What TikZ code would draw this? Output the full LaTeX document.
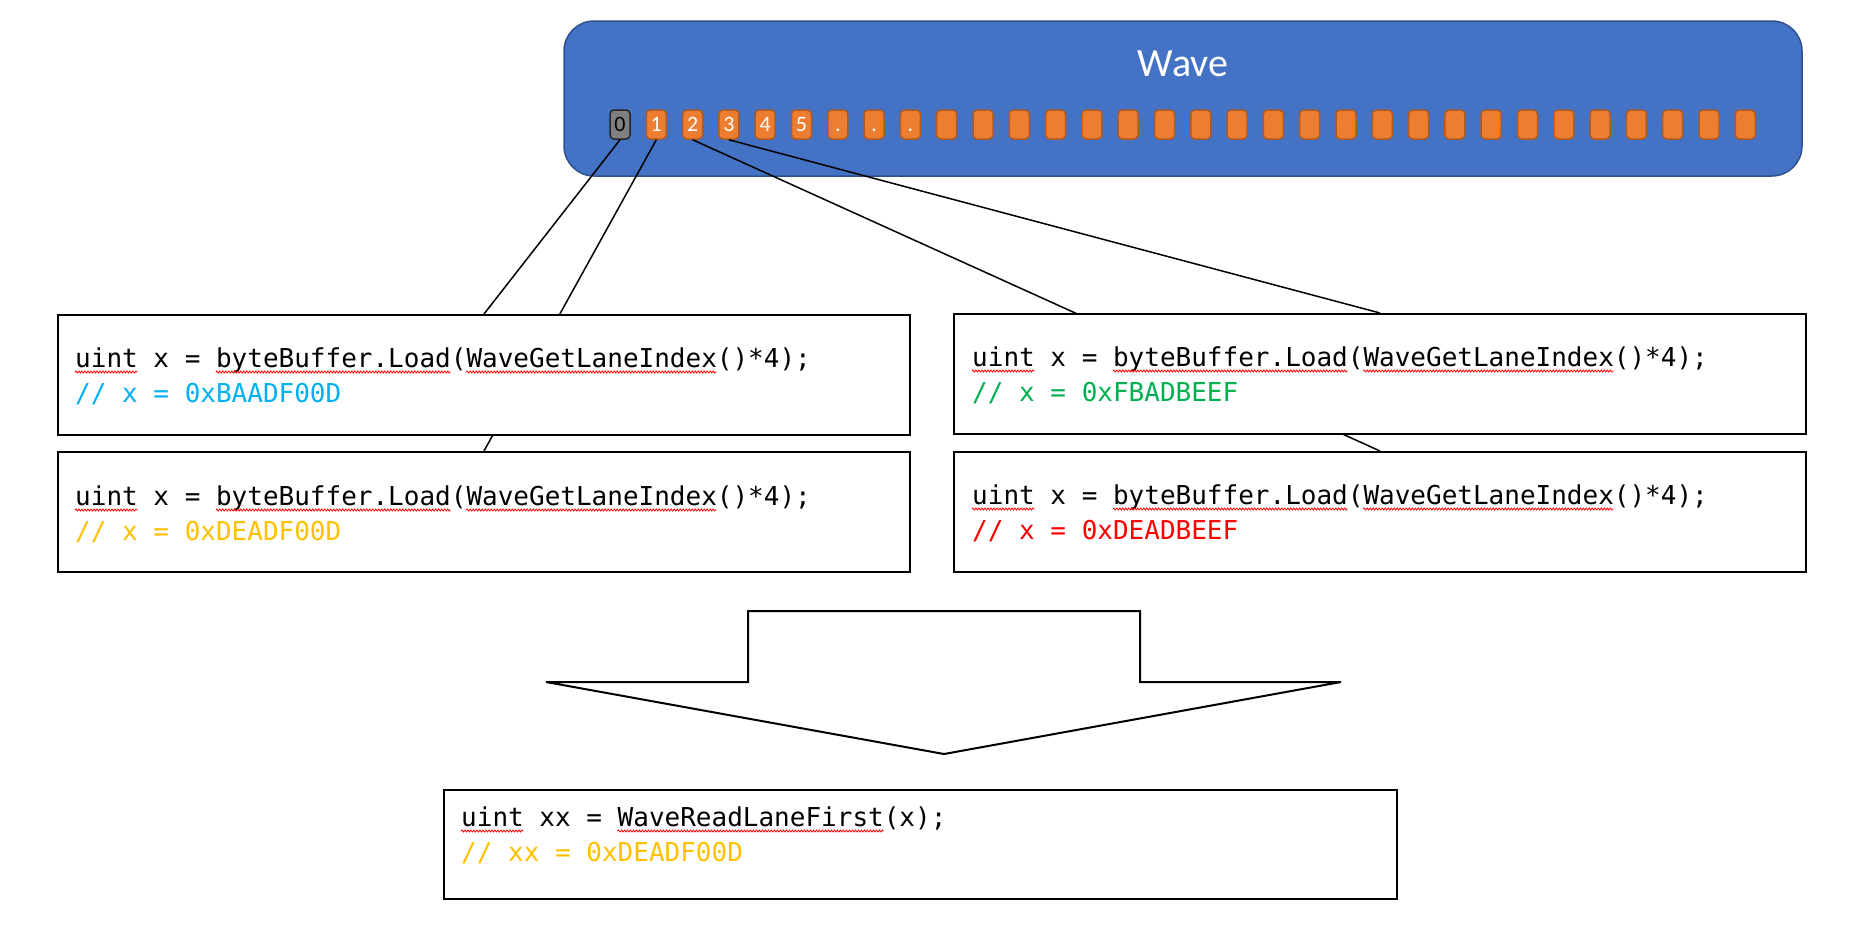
\documentclass[tikz,border=0pt]{standalone}
\usepackage{fontspec}
\setmainfont{Carlito}
\newfontfamily\codefont{DejaVu Sans Mono}
\usetikzlibrary{decorations.pathmorphing,calc}

\definecolor{waveblue}{HTML}{4472C4}
\definecolor{waveedge}{HTML}{2F528F}
\definecolor{laneorange}{HTML}{ED7D31}
\definecolor{laneedge}{HTML}{AE5A21}
\definecolor{lanegray}{HTML}{808080}
\definecolor{cblue}{HTML}{00B0F0}
\definecolor{cgreen}{HTML}{00B050}
\definecolor{cred}{HTML}{FF0000}
\definecolor{cgold}{HTML}{FFC000}

% width of one monospaced character
\def\cw{15.65}

\tikzset{
  wavebox/.style={draw=waveedge, line width=1.5pt, fill=waveblue, rounded corners=30pt},
  lane/.style={draw=laneedge, line width=1.5pt, fill=laneorange, rounded corners=4pt,
    minimum width=20pt, minimum height=29pt, inner sep=0pt, text=white,
    text height=14pt, text depth=0pt,
    font=\fontsize{22}{22}\selectfont},
  deadlane/.style={lane, fill=lanegray, draw=black!85, text=black},
  link/.style={draw=black, line width=1.5pt},
  codebox/.style={draw=black, line width=2.2pt, fill=white, minimum width=852pt,
    minimum height=120pt, inner sep=0pt},
  code/.style={anchor=base west, inner sep=0pt, font=\codefont\fontsize{26}{26}\selectfont},
  squig/.style={draw=red, line width=0.8pt, decorate,
    decoration={snake, amplitude=1pt, segment length=3pt}},
  blockarrow/.style={draw=black, line width=2pt, fill=white, line join=miter},
}

% wavy spell-check mark under characters #2 .. #2+#3 of code line #1
\newcommand\spellmark[3]{%
  \draw[squig] ($(#1.base west)+({#2*\cw pt},-5pt)$) -- ++({#3*\cw pt},0pt);}

\begin{document}
\begin{tikzpicture}[x=1pt, y=-1pt]
\useasboundingbox (0,0) rectangle (1850,930);

% the wave and its lanes
\draw[wavebox] (564,21) rectangle (1802,176);
\node[text=white, font=\fontsize{40}{40}\selectfont] (wavelabel) at (1183,64) {Wave};

\node[deadlane] (L0) at (620,124.5) {0};
\foreach \i in {1,...,5}
  \node[lane] (L\i) at ({620+36.3*\i},124.5) {\i};
\foreach \i in {6,7,8}
  \node[lane] (L\i) at ({620+36.3*\i},124.5) {.};
\foreach \i in {9,...,31}
  \node[lane] (L\i) at ({620+36.3*\i},124.5) {};

% top centres of the per-lane result boxes
\coordinate (Atop) at (484,314);
\coordinate (Btop) at (484,451);
\coordinate (Ctop) at (1380,313);
\coordinate (Dtop) at (1380,451);

% lane -> result links (boxes are drawn over them)
\draw[link] (L0.south) -- (Atop);
\draw[link] (L1.south) -- (Btop);
\draw[link] (L2.south) -- (Dtop);
\draw[link] (L3.south) -- (Ctop);

% per-lane results
\node[codebox, anchor=north] (A) at (Atop) {};
\node[codebox, anchor=north] (B) at (Btop) {};
\node[codebox, anchor=north] (C) at (Ctop) {};
\node[codebox, anchor=north] (D) at (Dtop) {};

\node[code] (A1) at (75,367) {uint x = byteBuffer.Load(WaveGetLaneIndex()*4);};
\node[code, text=cblue] (A2) at (75,402) {// x = 0xBAADF00D};
\node[code] (B1) at (75,505) {uint x = byteBuffer.Load(WaveGetLaneIndex()*4);};
\node[code, text=cgold] (B2) at (75,540) {// x = 0xDEADF00D};
\node[code] (C1) at (972,366) {uint x = byteBuffer.Load(WaveGetLaneIndex()*4);};
\node[code, text=cgreen] (C2) at (972,401) {// x = 0xFBADBEEF};
\node[code] (D1) at (972,504) {uint x = byteBuffer.Load(WaveGetLaneIndex()*4);};
\node[code, text=cred] (D2) at (972,539) {// x = 0xDEADBEEF};

\foreach \n in {A1,B1,C1,D1}{
  \spellmark{\n}{0}{4}
  \spellmark{\n}{9}{15}
  \spellmark{\n}{25}{16}
}

% reduction arrow
\draw[blockarrow] (748,611) -- (1140,611) -- (1140,682) -- (1341,682) -- (944,754)
  -- (546,682) -- (748,682) -- cycle;

% result of the wave read
\node[codebox, minimum width=953pt, minimum height=109pt, anchor=north] (E) at (920.5,789) {};
\node[code] (E1) at (461,826) {uint xx = WaveReadLaneFirst(x);};
\node[code, text=cgold] (E2) at (461,861) {// xx = 0xDEADF00D};
\spellmark{E1}{0}{4}
\spellmark{E1}{10}{17}

\end{tikzpicture}
\end{document}
